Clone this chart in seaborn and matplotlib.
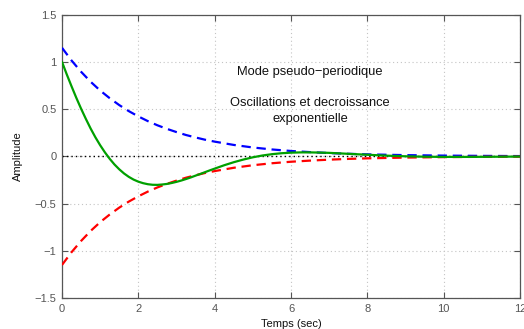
import matplotlib
matplotlib.use("Agg")
import matplotlib.pyplot as plt
import seaborn as sns
import numpy as np

# Time grids (s)
t_env = [0, 0.25, 0.5, 0.75, 1.0, 1.25, 1.5, 1.75, 2.0, 2.25, 2.5, 2.75, 3.0, 3.25,
         3.5, 3.75, 4.0, 4.5, 5.0, 5.5, 6.0, 6.5, 7.0, 7.5, 8.0, 9.0, 10.0, 11.0, 12.0]
env_upper = [1.15, 1.015, 0.896, 0.790, 0.697, 0.616, 0.543, 0.479, 0.423, 0.373,
             0.329, 0.291, 0.257, 0.226, 0.200, 0.176, 0.156, 0.121, 0.094, 0.073,
             0.057, 0.045, 0.035, 0.027, 0.021, 0.013, 0.008, 0.005, 0.003]
env_lower = [-1.15, -1.015, -0.896, -0.790, -0.697, -0.616, -0.543, -0.479, -0.423, -0.373,
             -0.329, -0.291, -0.257, -0.226, -0.200, -0.176, -0.156, -0.121, -0.094, -0.073,
             -0.057, -0.045, -0.035, -0.027, -0.021, -0.013, -0.008, -0.005, -0.003]

t_resp = [0, 0.125, 0.25, 0.375, 0.5, 0.625, 0.75, 0.875, 1.0, 1.125, 1.25, 1.375,
          1.5, 1.625, 1.75, 1.875, 2.0, 2.125, 2.25, 2.375, 2.5, 2.625, 2.75, 2.875,
          3.0, 3.125, 3.25, 3.375, 3.5, 3.625, 3.75, 3.875, 4.0, 4.25, 4.5, 4.75,
          5.0, 5.25, 5.5, 5.75, 6.0, 6.25, 6.5, 6.75, 7.0, 7.5, 8.0, 8.5, 9.0, 9.5,
          10.0, 10.5, 11.0, 11.5, 12.0]
response = [1.0, 0.868, 0.742, 0.620, 0.505, 0.397, 0.295, 0.202, 0.118, 0.042,
            -0.026, -0.086, -0.137, -0.181, -0.217, -0.246, -0.268, -0.284, -0.295,
            -0.301, -0.302, -0.298, -0.292, -0.282, -0.270, -0.256, -0.240, -0.223,
            -0.204, -0.186, -0.167, -0.148, -0.130, -0.094, -0.062, -0.034, -0.010,
            0.009, 0.023, 0.033, 0.039, 0.042, 0.042, 0.040, 0.037, 0.027, 0.017,
            0.0075, 0.0006, -0.0037, -0.0057, -0.0059, -0.0050, -0.0036, -0.0021]

x_ticks = [0, 2, 4, 6, 8, 10, 12]
y_ticks = [-1.5, -1, -0.5, 0, 0.5, 1, 1.5]
title_text = "Mode pseudo\u2212periodique"
sub_text = "Oscillations et decroissance\nexponentielle"

sns.set_theme(style="white")
plt.rcParams['font.family'] = ['Liberation Sans', 'DejaVu Sans']

fig = plt.figure(figsize=(5.24, 3.29), dpi=100)
ax = fig.add_axes([0.1183, 0.0942, 0.8741, 0.8611])

ax.axhline(0, color='black', linestyle=(0, (1, 2.2)), linewidth=1.0, zorder=1)

sns.lineplot(x=t_env, y=env_upper, color='#0000ff', linestyle=(0, (4.2, 2.6)),
             linewidth=1.6, ax=ax, zorder=3)
sns.lineplot(x=t_env, y=env_lower, color='#ff0000', linestyle=(0, (4.2, 2.6)),
             linewidth=1.6, ax=ax, zorder=3)
sns.lineplot(x=t_resp, y=response, color='#00a000', linewidth=1.6, ax=ax, zorder=4)

ax.set_xlim(0, 12)
ax.set_ylim(-1.5, 1.5)
ax.set_xticks(x_ticks)
ax.set_yticks(y_ticks)
ax.set_xticklabels([str(v) for v in x_ticks])
ax.set_yticklabels(["\u22121.5", "\u22121", "\u22120.5", "0", "0.5", "1", "1.5"])

ax.grid(True, color='#c4c4c4', linestyle=(0, (1, 2.5)), linewidth=0.8)
ax.set_axisbelow(True)
for s in ax.spines.values():
    s.set_visible(True)
    s.set_color('#555555')
    s.set_linewidth(0.9)
ax.tick_params(direction='in', length=4, width=0.8, color='#555555',
               labelsize=8, labelcolor='#555555', top=True, right=True,
               left=True, bottom=True, pad=4)

ax.set_xlabel("Temps (sec)", fontsize=8, color='#111111', labelpad=4)
ax.set_ylabel("Amplitude", fontsize=8, color='#111111', labelpad=8)

ax.text(6.5, 0.89, title_text, ha='center', va='center', fontsize=9.3, color='#111111')
ax.text(6.5, 0.476, sub_text, ha='center', va='center', fontsize=9.3, color='#111111',
        linespacing=1.45)

fig.savefig("out.png", dpi=100)
